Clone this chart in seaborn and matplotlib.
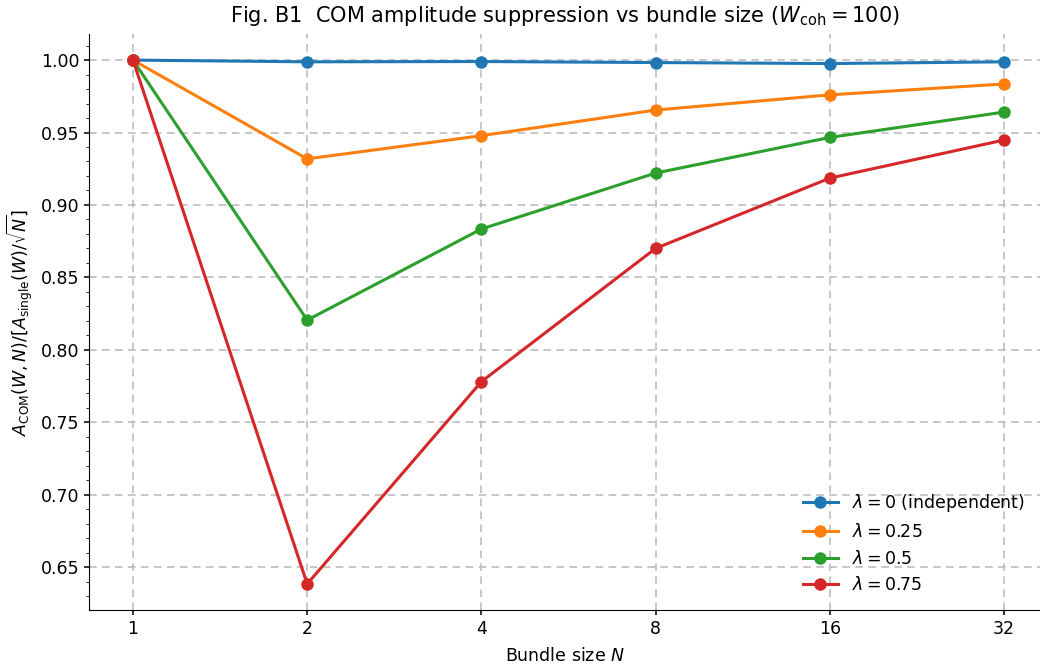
import numpy as np
import pandas as pd
import matplotlib
matplotlib.use("Agg")
import matplotlib.pyplot as plt
import seaborn as sns
from matplotlib.ticker import FixedLocator, FixedFormatter, MultipleLocator, NullLocator

bundle_sizes = [1, 2, 4, 8, 16, 32]
lam_labels = [r"$\lambda = 0$ (independent)", r"$\lambda = 0.25$", r"$\lambda = 0.5$", r"$\lambda = 0.75$"]
vals_lam0 = [1.000, 0.9988, 0.9990, 0.9983, 0.9976, 0.9988]
vals_lam025 = [1.000, 0.9318, 0.9478, 0.9655, 0.9760, 0.9835]
vals_lam05 = [1.000, 0.8205, 0.8834, 0.9220, 0.9466, 0.9641]
vals_lam075 = [1.000, 0.6384, 0.7780, 0.8700, 0.9185, 0.9448]

series = [vals_lam0, vals_lam025, vals_lam05, vals_lam075]
rows = []
for lab, vals in zip(lam_labels, series):
    for n, v in zip(bundle_sizes, vals):
        rows.append({"N": n, "ratio": v, "lam": lab})
df = pd.DataFrame(rows)

fig = plt.figure(figsize=(10.4, 6.68), dpi=100)
ax = fig.add_axes([89/1040, 1 - 610/668, (1040 - 89)/1040, (610 - 34)/668])

sns.lineplot(data=df, x="N", y="ratio", hue="lam", hue_order=lam_labels,
             palette=["#1f77b4", "#ff7f0e", "#2ca02c", "#d62728"],
             marker="o", markersize=9, markeredgewidth=0, linewidth=2.2, ax=ax)

ax.set_xscale("log", base=2)
ax.xaxis.set_major_locator(FixedLocator(bundle_sizes))
ax.xaxis.set_major_formatter(FixedFormatter([str(b) for b in bundle_sizes]))
ax.xaxis.set_minor_locator(NullLocator())
ax.set_xlim(2 ** -0.2526, 2 ** 5.207)
ax.set_ylim(0.6204, 1.018)
ax.yaxis.set_major_locator(MultipleLocator(0.05))
ax.yaxis.set_minor_locator(MultipleLocator(0.01))
ax.yaxis.set_major_formatter(matplotlib.ticker.FormatStrFormatter("%.2f"))

ax.grid(True, which="major", linestyle=(0, (5, 3.5)), color="#b8b8b8", linewidth=1.1)
ax.set_axisbelow(True)
sns.despine(ax=ax)

ax.tick_params(labelsize=12.5, width=1.1)
ax.set_xlabel(r"Bundle size $N$", fontsize=12.5, labelpad=7)
ax.set_ylabel(r"$A_{\mathrm{COM}}(W, N) / [A_{\mathrm{single}}(W)/\sqrt{N}]$", fontsize=12.5)
ax.set_title(r"Fig. B1  COM amplitude suppression vs bundle size ($W_{\mathrm{coh}} = 100$)",
             fontsize=15, pad=8.5)

ax.legend(loc="lower right", frameon=False, fontsize=12.5, borderaxespad=0.5)

fig.savefig("out.png", dpi=100)
